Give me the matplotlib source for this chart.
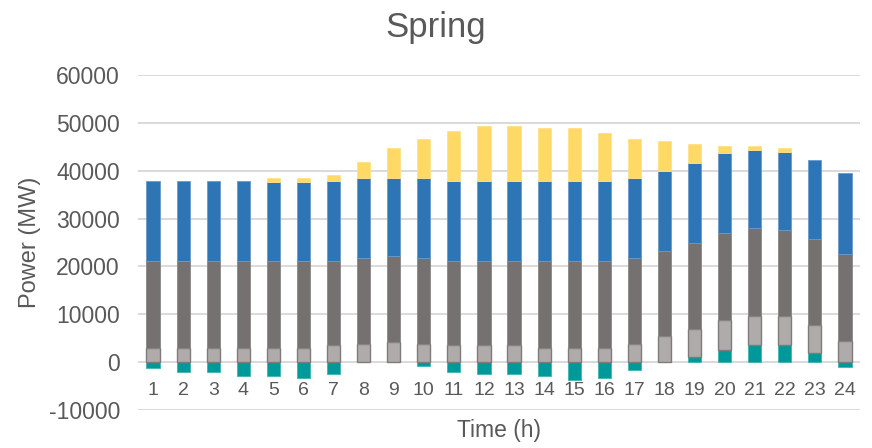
import numpy as np
import matplotlib
matplotlib.use("Agg")
import matplotlib.pyplot as plt

# Hourly generation mix for a spring day (MW), stacked segment sizes
hours = list(range(1, 25))
storage = [-1200, -2100, -2100, -2900, -2900, -3300, -2500, 0, 0, -900, -2100, -2500,
           -2500, -2900, -3700, -3300, -1700, 0, 1100, 2600, 3500, 3500, 1900, -1000]
hydro = [3000, 3000, 3000, 3000, 3000, 3000, 3500, 3800, 4200, 3800, 3500, 3500,
         3500, 3000, 3000, 3000, 3800, 5500, 5800, 6300, 6200, 6200, 5800, 4500]
thermal = [18200, 18200, 18200, 18200, 18200, 18200, 17700, 17900, 17900, 17900, 17700, 17700,
           17700, 18200, 18200, 18200, 17900, 17800, 17900, 18000, 18400, 18000, 18000, 18000]
nuclear = [16700, 16700, 16700, 16700, 16400, 16400, 16700, 16700, 16400, 16700, 16700, 16700,
           16700, 16700, 16700, 16700, 16700, 16700, 16800, 16700, 16200, 16200, 16600, 17000]
solar = [0, 0, 0, 0, 800, 800, 1200, 3500, 6200, 8200, 10300, 11500,
         11500, 11100, 11100, 9900, 8200, 6300, 3900, 1500, 800, 800, 0, 0]

title = "Spring"
x_label = "Time (h)"
y_label = "Power (MW)"
y_ticks = list(range(-10000, 60001, 10000))

colors = {
    "storage": "#009999",
    "hydro": "#AFABAB",
    "thermal": "#767171",
    "nuclear": "#2E75B6",
    "solar": "#FFD966",
}
edges = {
    "storage": "#40B3B3",
    "hydro": "#7F7B7B",
    "thermal": "#8A8686",
    "nuclear": "#6A9BCB",
    "solar": "#FFE18A",
}
text_color = "#595959"
font = "Liberation Sans"

plt.rcParams["font.family"] = [font, "DejaVu Sans"]

fig = plt.figure(figsize=(8.72, 4.48), dpi=100)
ax = fig.add_axes([138 / 872, 1 - 410 / 448, (860 - 138) / 872, (410 - 75) / 448])

x = np.array(hours)
width = 0.44


def draw_segment(values, bottoms, key, lw):
    v = np.asarray(values, dtype=float)
    keep = v != 0
    ax.bar(x[keep], v[keep], width, bottom=np.asarray(bottoms)[keep],
           color=colors[key], edgecolor=edges[key], linewidth=lw, zorder=3)


st = np.array(storage, dtype=float)
# storage: positive parts sit at the base of the stack, negative parts hang below zero
draw_segment(st, np.zeros_like(st), "storage", 0.6)

bottom = np.clip(st, 0, None)
for key, vals in (("hydro", hydro), ("thermal", thermal), ("nuclear", nuclear), ("solar", solar)):
    v = np.array(vals, dtype=float)
    draw_segment(v, bottom, key, 1.0 if key == "hydro" else 0.6)
    bottom = bottom + v

ax.set_xlim(0.5, 24.5)
ax.set_ylim(-10000, 60000)
ax.set_yticks(y_ticks)
ax.set_yticklabels([str(t) for t in y_ticks])
ax.set_xticks(x)
ax.set_xticklabels([str(h) for h in hours])

ax.yaxis.grid(True, color="#D9D9D9", linewidth=1.4, zorder=0)
ax.set_axisbelow(True)
for s in ("top", "right", "left"):
    ax.spines[s].set_visible(False)
ax.spines["bottom"].set_position(("data", 0))
ax.spines["bottom"].set_visible(False)

ax.tick_params(axis="x", length=0, pad=14, labelsize=14, labelcolor=text_color)
ax.tick_params(axis="y", length=0, pad=13, labelsize=16.5, labelcolor=text_color)
for lbl in ax.get_xticklabels():
    lbl.set_zorder(5)

fig.text(436 / 872, 1 - 37 / 448, title, ha="center", va="baseline",
         fontsize=25, color=text_color)
fig.text(499 / 872, 1 - 437 / 448, x_label, ha="center", va="baseline",
         fontsize=16.5, color=text_color)
fig.text(30 / 872, 1 - 242 / 448, y_label, ha="center", va="center", rotation=90,
         fontsize=17, color=text_color)

fig.savefig("out.png", dpi=100, facecolor="white")
